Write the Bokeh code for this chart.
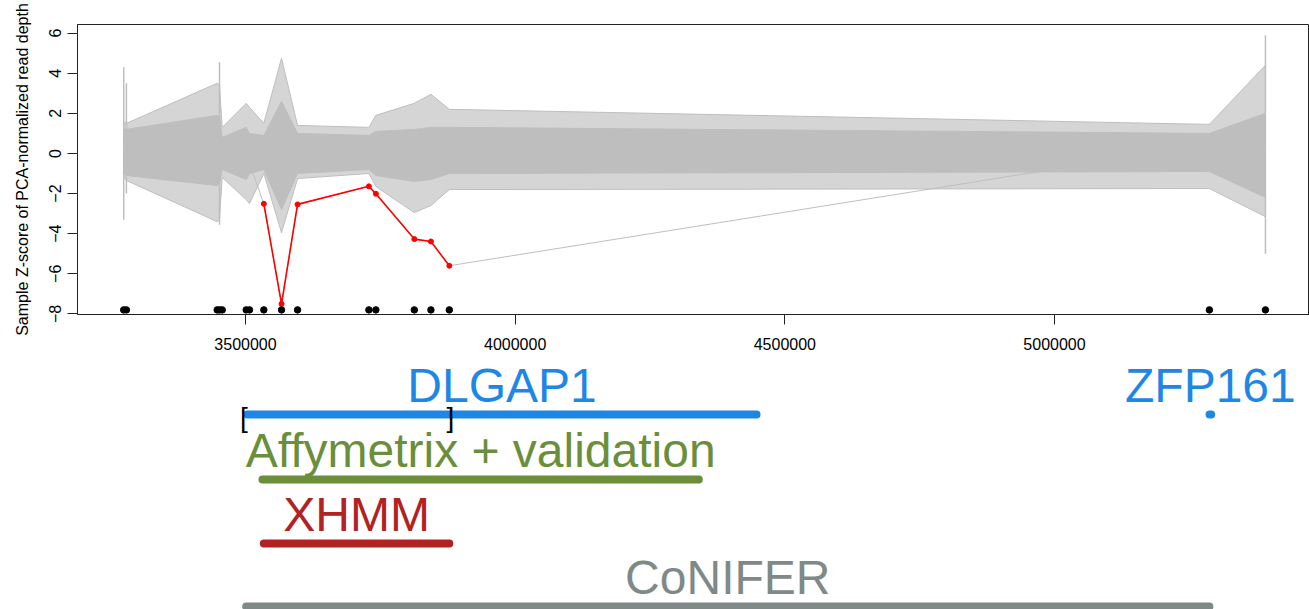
from bokeh.plotting import figure
from bokeh.layouts import column
from bokeh.models import Range1d, FixedTicker, BasicTickFormatter
from bokeh.core.properties import value
from bokeh.embed import file_html
from bokeh.resources import INLINE

# Exome targets (bp, chr18) in the DLGAP1 region
targets = [3274200, 3279200, 3447500, 3451800, 3456800, 3501300, 3507400,
           3534000, 3566800, 3596500, 3728800, 3741700, 3813000, 3843800,
           3877900, 5287200, 5391100]

# Per-target summary of all samples' z-scores:
# outermost traces and the edges of the dense core of traces
z_max = [1.6, 1.5, 3.5, 3.4, 1.3, 2.5, 2.3, 1.5, 4.75, 1.4, 1.3, 1.9, 2.5, 2.95, 2.2, 1.45, 4.4]
z_hi = [1.2, 1.2, 1.9, 1.8, 0.8, 1.3, 1.0, 0.9, 2.6, 1.0, 0.9, 1.1, 1.2, 1.3, 1.3, 1.0, 2.0]
z_lo = [-1.0, -1.1, -1.6, -1.5, -0.8, -1.3, -1.0, -0.8, -2.8, -1.0, -0.8, -1.1, -1.4, -1.3, -1.0, -0.9, -2.2]
z_min = [-1.2, -1.35, -3.4, -3.3, -1.2, -2.3, -2.5, -1.0, -3.95, -1.25, -1.0, -1.65, -2.95, -2.6, -1.8, -1.75, -3.15]

# Neighbouring targets whose sample points stack into columns
spread_pos = [3274200, 3279200, 3451800, 5391100]
spread_top = [4.3, 3.5, 4.55, 5.9]
spread_bottom = [-3.3, -2.0, -3.55, -5.0]

# Carrier sample; targets 7..14 form the called deletion
carrier_z = [0.2, 0.1, -0.3, -0.2, -0.3, -0.4, -0.5, -2.51, -7.5, -2.54,
             -1.64, -2.01, -4.27, -4.39, -5.6, 0.45, 0.3]
cnv_first, cnv_last = 7, 14

target_marker_z = -7.8

# Annotation tracks
gene_names = ["DLGAP1", "ZFP161"]
gene_start = [3503700, 5287500]
gene_end = [4447500, 5290500]
call_names = ["Affymetrix + validation", "XHMM", "CoNIFER"]
call_start = [3531500, 3534000, 3501300]
call_end = [4340500, 3877900, 5287200]
call_colors = ["#6B8E3B", "#B22222", "#7F8A88"]
bracket_start, bracket_end = 3497000, 3880000

GRAY = "#BEBEBE"
BLUE = "#1E87E5"
FONT = "Liberation Sans"

x_range = Range1d(3188500, 5472800)

p = figure(frame_width=1232, frame_height=290, x_range=x_range,
           y_range=Range1d(-8.03, 6.43), output_backend="svg",
           toolbar_location=None, min_border_left=77, min_border_right=0,
           min_border_top=24, min_border_bottom=45)
p.xgrid.visible = False
p.ygrid.visible = False
p.outline_line_color = "#222222"
p.outline_line_width = 1

# spread of all sample traces
p.varea(x=targets, y1=z_min, y2=z_max, fill_color=GRAY, fill_alpha=0.65)
p.varea(x=targets, y1=z_lo, y2=z_hi, fill_color=GRAY, fill_alpha=1.0)
for ys in (z_max, z_hi, z_lo, z_min):
    p.line(targets, ys, line_color=GRAY, line_width=1)
p.segment(x0=spread_pos, y0=spread_bottom, x1=spread_pos, y1=spread_top,
          line_color=GRAY, line_width=1.5)

# carrier sample, deletion in red
p.line(targets, carrier_z, line_color=GRAY, line_width=1)
cx = targets[cnv_first:cnv_last + 1]
cy = carrier_z[cnv_first:cnv_last + 1]
p.line(cx, cy, line_color="#FF0000", line_width=1.6)
p.scatter(cx, cy, size=5, color="#FF0000")

# target positions
p.scatter(targets, [target_marker_z] * len(targets), size=6.5, color="black")

p.xaxis.ticker = FixedTicker(ticks=[3500000, 4000000, 4500000, 5000000])
p.xaxis.formatter = BasicTickFormatter(use_scientific=False)
p.yaxis.ticker = FixedTicker(ticks=[-8, -6, -4, -2, 0, 2, 4, 6])
p.yaxis.major_label_orientation = "vertical"
p.yaxis.axis_label = "Sample Z-score of PCA-normalized read depth"
p.yaxis.axis_label_text_font_style = "normal"
p.yaxis.axis_label_text_font = FONT
p.yaxis.axis_label_text_font_size = "16px"
p.yaxis.axis_label_text_color = "black"
p.yaxis.axis_label_standoff = 16
for ax in (p.xaxis, p.yaxis):
    ax.major_label_text_font = FONT
    ax.major_label_text_font_size = "16px"
    ax.major_label_text_color = "black"
    ax.major_tick_in = 0
    ax.major_tick_out = 10
    ax.minor_tick_line_color = None
    ax.axis_line_color = "#222222"
    ax.major_tick_line_color = "#222222"
p.xaxis.major_label_standoff = 13
p.yaxis.major_label_standoff = 6

# annotation panel: y counts pixels down from the bottom of the axis labels
top_px = 359 - 340
q = figure(frame_width=1232, frame_height=250, x_range=x_range,
           y_range=Range1d(269, top_px), output_backend="svg",
           toolbar_location=None, x_axis_location=None, y_axis_location=None,
           min_border_left=77, min_border_right=0, min_border_top=0,
           min_border_bottom=0)
q.xgrid.visible = False
q.ygrid.visible = False
q.outline_line_color = None

row_y = [74, 139, 203, 266]
label_lift = 29

q.segment(x0=gene_start, y0=[row_y[0]] * 2, x1=gene_end, y1=[row_y[0]] * 2,
          line_color=BLUE, line_width=8, line_cap="round")
q.text(x=[(a + b) / 2 for a, b in zip(gene_start, gene_end)],
       y=[row_y[0] - label_lift] * 2, text=gene_names, text_color=BLUE,
       text_font=value(FONT), text_font_size="48px", text_align="center",
       text_baseline="alphabetic")
q.text(x=[bracket_start, bracket_end], y=[row_y[0] + 3] * 2, text=["[", "]"],
       text_color="black", text_font=value(FONT), text_font_size="28px",
       text_align="center", text_baseline="middle")

for i, (name, s, e, c) in enumerate(zip(call_names, call_start, call_end, call_colors)):
    y = row_y[i + 1]
    q.segment(x0=[s], y0=[y], x1=[e], y1=[y], line_color=c, line_width=8,
              line_cap="round")
    q.text(x=[(s + e) / 2], y=[y - label_lift], text=[name], text_color=c,
           text_font=value(FONT), text_font_size="48px", text_align="center",
           text_baseline="alphabetic")

layout = column(p, q, spacing=0)
open("out.html", "w").write(file_html(layout, INLINE))
